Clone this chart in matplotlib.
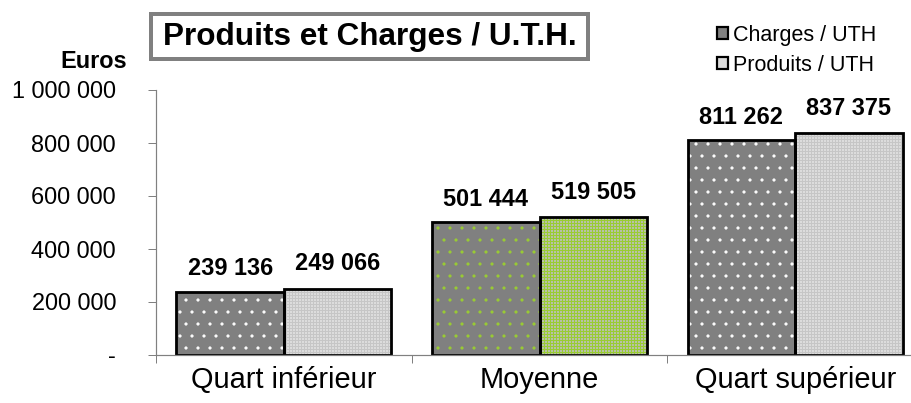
import matplotlib
matplotlib.use("Agg")
import matplotlib.pyplot as plt
from matplotlib.patches import Rectangle, Patch
from matplotlib.ticker import FuncFormatter, FixedLocator
import numpy as np

categories = ["Quart inférieur", "Moyenne", "Quart supérieur"]
charges = [239136, 501444, 811262]
produits = [249066, 519505, 837375]
series_names = ["Charges / UTH", "Produits / UTH"]
title = "Produits et Charges / U.T.H."
ylabel = "Euros"
yticks = [0, 200000, 400000, 600000, 800000, 1000000]

plt.rcParams['font.family'] = ['Liberation Sans', 'DejaVu Sans']

W, H = 911, 403
DPI = 72
fig = plt.figure(figsize=(W / DPI, H / DPI), dpi=DPI)
ax = fig.add_axes([156 / W, 48 / H, (923 - 156) / W, (355 - 90) / H])

x = np.arange(len(categories))
bw = 0.42

charge_face = ['#808080', '#808080', '#808080']
charge_dots = ['white', '#9acd32', 'white']
prod_face = ['#f4f4f4', '#bcc0b4', '#f4f4f4']
prod_hatch = ['#c6c6c6', '#99cc33', '#c6c6c6']
prod_lw = [1.5, 1.1, 1.5]

for i in range(len(categories)):
    with plt.rc_context({'hatch.linewidth': 0.7}):
        ax.bar(x[i] - bw / 2, charges[i], bw, color=charge_face[i], edgecolor=charge_dots[i],
               linewidth=0, hatch='.', zorder=2)
    with plt.rc_context({'hatch.linewidth': prod_lw[i]}):
        ax.bar(x[i] + bw / 2, produits[i], bw, color=prod_face[i], edgecolor=prod_hatch[i],
               linewidth=0, hatch='++++', zorder=2)
ax.bar(x - bw / 2, charges, bw, fill=False, edgecolor='black', linewidth=2.8, zorder=3)
ax.bar(x + bw / 2, produits, bw, fill=False, edgecolor='black', linewidth=2.8, zorder=3)

def fmt(v):
    return f"{int(round(v)):,}".replace(",", " ")

for i in range(len(categories)):
    ax.annotate(fmt(charges[i]), (x[i] - bw / 2, charges[i]), xytext=(0, 23),
                textcoords='offset pixels', ha='center', va='center',
                fontsize=23.5, fontweight='bold', zorder=4)
    ax.annotate(fmt(produits[i]), (x[i] + bw / 2, produits[i]), xytext=(0, 25),
                textcoords='offset pixels', ha='center', va='center',
                fontsize=23.5, fontweight='bold', zorder=4)

ax.set_xlim(-0.5, len(categories) - 0.5)
ax.set_ylim(0, 1000000)
ax.set_yticks(yticks)
ax.yaxis.set_major_formatter(FuncFormatter(lambda v, p: "-" if v == 0 else fmt(v)))
ax.tick_params(axis='y', direction='out', length=8, width=1, color='#808080',
               labelsize=23.5, pad=32)
ax.set_xticks(x)
ax.set_xticklabels(categories)
ax.xaxis.set_minor_locator(FixedLocator(np.arange(-0.5, len(categories), 1.0)))
ax.tick_params(axis='x', which='major', length=0, labelsize=29, pad=11)
ax.tick_params(axis='x', which='minor', direction='out', length=8, width=1, color='#808080')

for s in ['top', 'right']:
    ax.spines[s].set_visible(False)
for s in ['left', 'bottom']:
    ax.spines[s].set_color('#808080')
    ax.spines[s].set_linewidth(1.2)
ax.spines['bottom'].set_zorder(5)

# y label
fig.text(127 / W, 1 - 62 / H, ylabel, ha='right', va='center', fontsize=23.5, fontweight='bold')

# title box
fig.patches.append(Rectangle((151 / W, 1 - 59 / H), (588 - 151) / W, (59 - 14) / H,
                             transform=fig.transFigure, fill=False, edgecolor='#808080',
                             linewidth=4, zorder=1))
fig.text(369.5 / W, 1 - 37 / H, title, ha='center', va='center', fontsize=31.5,
         fontweight='bold')

handles = [Patch(facecolor='#808080', edgecolor='black', linewidth=2.2),
           Patch(facecolor='#dcdcdc', edgecolor='black', linewidth=2.2)]
fig.legend(handles, series_names, loc='upper left', bbox_to_anchor=(717 / W, 1 - 25 / H),
           frameon=False, fontsize=21.5, handlelength=0.5, handleheight=0.5,
           handletextpad=0.25, labelspacing=0.4, borderpad=0, borderaxespad=0)

fig.savefig("out.png", dpi=DPI)
